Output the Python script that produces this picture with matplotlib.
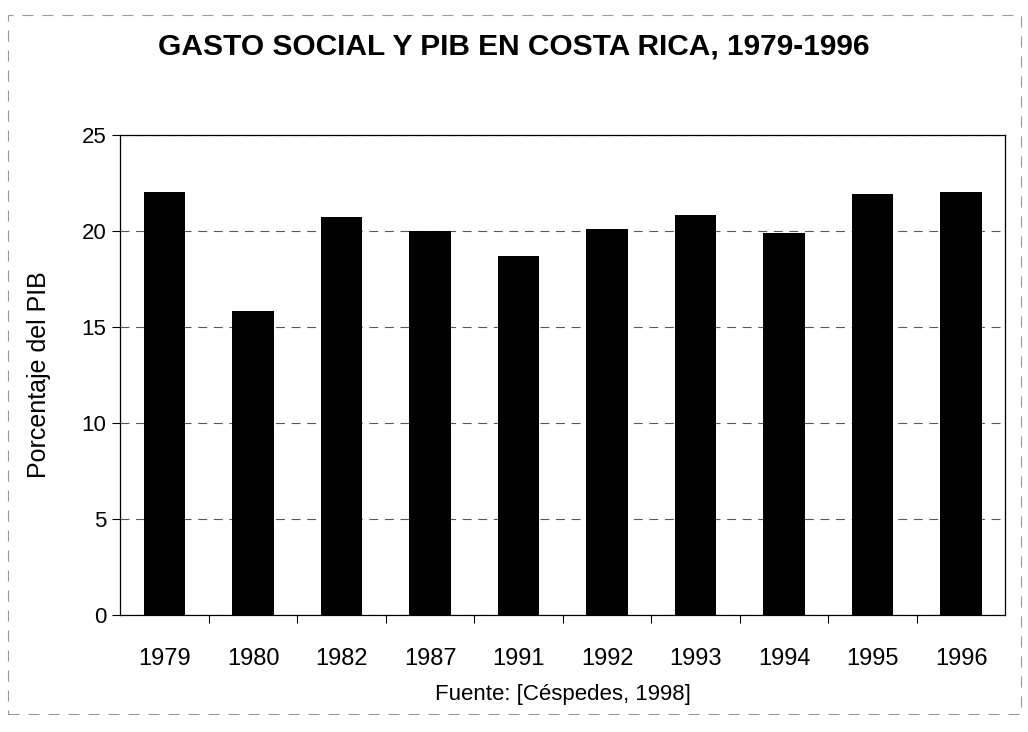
"""Gasto social y PIB en Costa Rica, 1979-1996 (barras)."""
import matplotlib
matplotlib.use("Agg")
import matplotlib.pyplot as plt
from matplotlib.patches import Rectangle

years = ["1979", "1980", "1982", "1987", "1991", "1992", "1993", "1994", "1995", "1996"]
gasto_pib = [22.0, 15.8, 20.7, 20.0, 18.7, 20.1, 20.8, 19.9, 21.9, 22.0]
yticks = [0, 5, 10, 15, 20, 25]

plt.rcParams["font.family"] = ["Liberation Sans", "DejaVu Sans"]

fig = plt.figure(figsize=(10.28, 7.32), dpi=100)
ax = fig.add_axes([0.117, 0.16, 0.861, 0.656])

xs = range(len(years))
ax.bar(xs, gasto_pib, width=0.47, color="black", zorder=3)

ax.set_xlim(-0.5, len(years) - 0.5)
ax.set_ylim(0, 25)
ax.set_yticks(yticks)
ax.set_yticklabels([str(t) for t in yticks], fontsize=16)
ax.set_xticks(list(xs))
ax.set_xticklabels(years, fontsize=17)
ax.tick_params(axis="x", length=0, pad=24)
ax.tick_params(axis="y", direction="out", length=6, width=0.8, pad=4)
# marcas entre categorías, como en Excel
ax.set_xticks([x + 0.5 for x in range(len(years) - 1)], minor=True)
ax.tick_params(axis="x", which="minor", direction="out", length=6, width=0.8)

ax.grid(axis="y", color="0.35", linestyle=(0, (8, 6)), linewidth=0.8, zorder=0)
for s in ax.spines.values():
    s.set_linewidth(0.9)
    s.set_color("black")

ax.set_ylabel("Porcentaje del PIB", fontsize=18, labelpad=22)
ax.set_xlabel("Fuente: [Céspedes, 1998]", fontsize=16, labelpad=10)
fig.text(0.5, 0.937, "GASTO SOCIAL Y PIB EN COSTA RICA, 1979-1996",
         ha="center", va="center", fontsize=21.5, fontweight="bold")

fig.patches.append(Rectangle((0.008, 0.025), 0.985, 0.955, transform=fig.transFigure,
                             fill=False, edgecolor="0.6", linewidth=0.8,
                             linestyle=(0, (10, 8))))

fig.savefig("out.png", dpi=100)
